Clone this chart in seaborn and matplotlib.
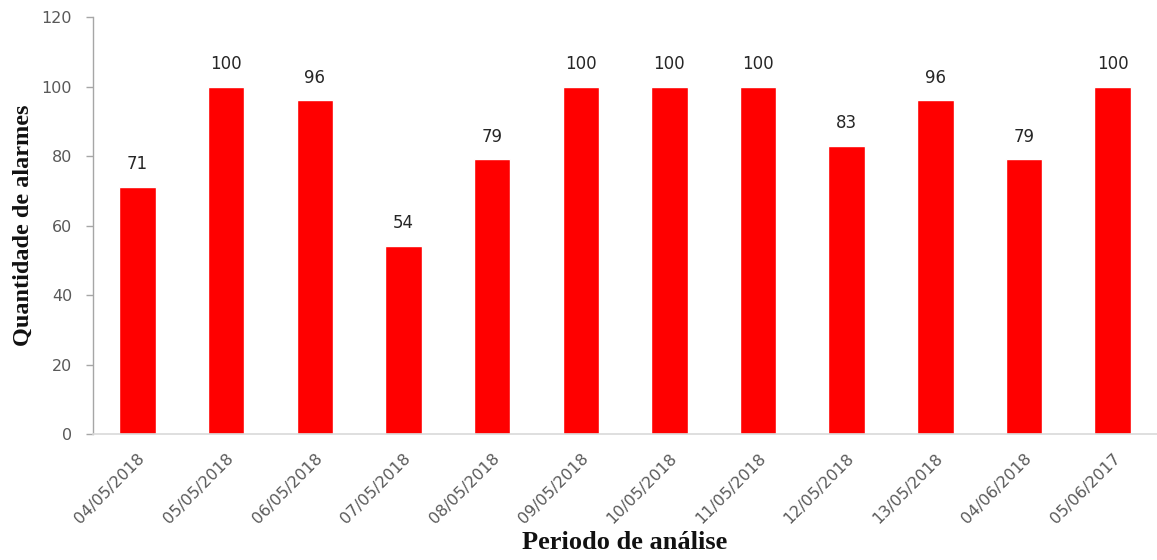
import matplotlib
matplotlib.use("Agg")
import matplotlib.pyplot as plt
import pandas as pd
import seaborn as sns

# Data
datas = [
    "04/05/2018", "05/05/2018", "06/05/2018", "07/05/2018", "08/05/2018", "09/05/2018",
    "10/05/2018", "11/05/2018", "12/05/2018", "13/05/2018", "04/06/2018", "05/06/2017",
]
alarmes = [71, 100, 96, 54, 79, 100, 100, 100, 83, 96, 79, 100]

df = pd.DataFrame({"Periodo": datas, "Alarmes": alarmes})

sns.set_theme(style="white")
plt.rcParams["font.family"] = ["DejaVu Sans"]

fig = plt.figure(figsize=(11.57, 5.6), dpi=100)
ax = fig.add_axes([0.0804, 0.225, 0.9196, 0.7446])

sns.barplot(data=df, x="Periodo", y="Alarmes", color="#ff0000", saturation=1,
            width=0.41, ax=ax)

# Labels over each bar
for i, v in enumerate(alarmes):
    ax.text(i, v + 4, f"{v}", ha="center", va="bottom", fontsize=12, color="#262626")

ax.set_ylim(0, 120)
ax.set_xlim(-0.5, len(datas) - 0.5)
ax.set_yticks(range(0, 121, 20))
ax.tick_params(axis="y", labelsize=11.5, labelcolor="#595959", length=5,
               color="#a6a6a6", width=1, left=True, pad=10)
ax.tick_params(axis="x", labelsize=11.5, labelcolor="#595959", length=0, pad=12)
plt.setp(ax.get_xticklabels(), rotation=45, ha="right", rotation_mode="anchor")

for side in ["top", "right"]:
    ax.spines[side].set_visible(False)
ax.spines["left"].set_color("#a6a6a6")
ax.spines["bottom"].set_color("#d9d9d9")
ax.spines["left"].set_linewidth(1)
ax.spines["bottom"].set_linewidth(1.2)

ax.set_xlabel("Periodo de análise", fontsize=19, fontweight="bold",
              family="Liberation Serif", color="#111111", labelpad=3)
ax.set_ylabel("Quantidade de alarmes", fontsize=17.5, fontweight="bold",
              family="Liberation Serif", color="#111111", labelpad=6)

fig.savefig("out.png", dpi=100)
